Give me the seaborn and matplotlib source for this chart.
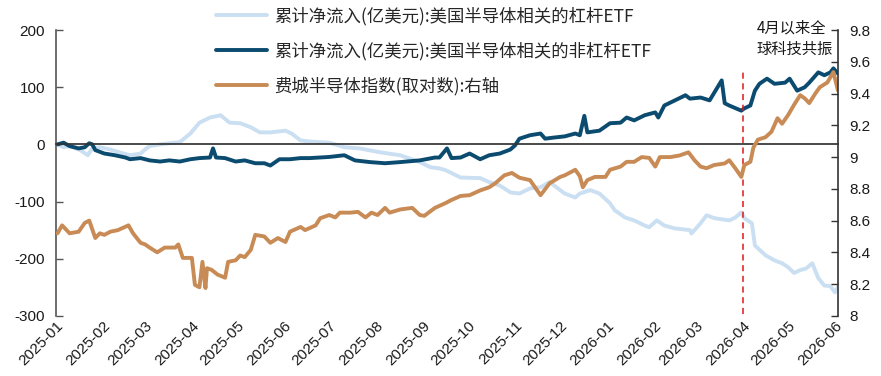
import matplotlib
matplotlib.use("Agg")
import matplotlib.pyplot as plt
import matplotlib.dates as mdates
from matplotlib.ticker import FuncFormatter, MultipleLocator
import pandas as pd
import seaborn as sns

# Cumulative net inflows into leveraged US semiconductor ETFs (100m USD)
lev_dates = [
    "2025-01-02", "2025-01-06", "2025-01-10", "2025-01-17", "2025-01-22", "2025-01-25",
    "2025-01-30", "2025-02-06", "2025-02-12", "2025-02-19", "2025-02-26", "2025-03-01",
    "2025-03-04", "2025-03-11", "2025-03-17", "2025-03-24", "2025-03-31", "2025-04-06",
    "2025-04-13", "2025-04-20", "2025-04-26", "2025-05-03", "2025-05-10", "2025-05-16",
    "2025-05-23", "2025-06-02", "2025-06-06", "2025-06-12", "2025-06-18", "2025-07-01",
    "2025-07-11", "2025-07-21", "2025-08-04", "2025-08-17", "2025-08-30", "2025-09-06",
    "2025-09-12", "2025-09-16", "2025-09-26", "2025-10-09", "2025-10-15", "2025-10-22",
    "2025-10-29", "2025-11-04", "2025-11-11", "2025-11-18", "2025-11-24", "2025-11-27",
    "2025-12-04", "2025-12-11", "2025-12-14", "2025-12-21", "2025-12-27", "2026-01-03",
    "2026-01-06", "2026-01-13", "2026-01-19", "2026-01-26", "2026-01-29", "2026-02-03",
    "2026-02-08", "2026-02-15", "2026-02-25", "2026-02-26", "2026-03-04", "2026-03-08",
    "2026-03-13", "2026-03-23", "2026-03-27", "2026-03-31", "2026-04-02", "2026-04-07",
    "2026-04-09", "2026-04-16", "2026-04-22", "2026-04-27", "2026-05-01", "2026-05-05",
    "2026-05-09", "2026-05-13", "2026-05-17", "2026-05-21", "2026-05-25", "2026-05-29",
    "2026-06-01", "2026-06-03",
]
lev_flow = [
    0, -5, -3, -10, -19, -7,
    -5, -9, -14, -19, -16, -9,
    -3, 0, 2, 4, 19, 38,
    47, 51, 38, 37, 30, 21,
    21, 24, 19, 7, 5, 3,
    -5, -7, -14, -19, -31, -40,
    -42, -45, -58, -59, -66, -72,
    -84, -86, -77, -75, -66, -72,
    -86, -93, -86, -80, -86, -103,
    -115, -128, -133, -142, -145, -133,
    -142, -147, -150, -156, -138, -124,
    -129, -133, -128, -119, -129, -138,
    -177, -194, -203, -208, -215, -225,
    -220, -217, -208, -234, -247, -248,
    -259, -250,
]

# Cumulative net inflows into non-leveraged US semiconductor ETFs (100m USD)
nonlev_dates = [
    "2025-01-02", "2025-01-06", "2025-01-10", "2025-01-16", "2025-01-20", "2025-01-23",
    "2025-01-25", "2025-01-27", "2025-02-02", "2025-02-09", "2025-02-16", "2025-02-19",
    "2025-02-26", "2025-03-04", "2025-03-11", "2025-03-17", "2025-03-24", "2025-03-31",
    "2025-04-06", "2025-04-13", "2025-04-15", "2025-04-17", "2025-04-23", "2025-04-30",
    "2025-05-06", "2025-05-13", "2025-05-19", "2025-05-23", "2025-05-29", "2025-06-05",
    "2025-06-12", "2025-06-18", "2025-07-01", "2025-07-11", "2025-07-18", "2025-07-28",
    "2025-08-07", "2025-08-17", "2025-08-30", "2025-09-09", "2025-09-12", "2025-09-17",
    "2025-09-20", "2025-09-26", "2025-10-02", "2025-10-09", "2025-10-15", "2025-10-22",
    "2025-10-29", "2025-11-01", "2025-11-04", "2025-11-11", "2025-11-18", "2025-11-21",
    "2025-11-27", "2025-12-04", "2025-12-11", "2025-12-14", "2025-12-17", "2025-12-19",
    "2025-12-27", "2026-01-03", "2026-01-10", "2026-01-14", "2026-01-19", "2026-01-26",
    "2026-02-02", "2026-02-04", "2026-02-08", "2026-02-15", "2026-02-22", "2026-02-25",
    "2026-03-04", "2026-03-10", "2026-03-18", "2026-03-20", "2026-03-23", "2026-03-31",
    "2026-04-02", "2026-04-06", "2026-04-09", "2026-04-12", "2026-04-17", "2026-04-22",
    "2026-04-29", "2026-05-02", "2026-05-07", "2026-05-12", "2026-05-15", "2026-05-21",
    "2026-05-25", "2026-05-29", "2026-05-31", "2026-06-03",
]
nonlev_flow = [
    0, 3, -3, -7, -5, 2,
    0, -10, -16, -19, -23, -26,
    -24, -28, -30, -28, -30, -26,
    -24, -23, -7, -23, -24, -30,
    -28, -33, -33, -37, -26, -26,
    -24, -24, -22, -19, -28, -31,
    -33, -31, -28, -23, -23, -7,
    -24, -23, -16, -26, -19, -16,
    -9, -2, 10, 16, 19, 10,
    12, 14, 19, 16, 50, 21,
    24, 37, 38, 47, 42, 51,
    56, 47, 68, 77, 86, 80,
    82, 77, 112, 72, 68, 59,
    63, 68, 94, 106, 115, 106,
    108, 115, 94, 100, 108, 126,
    121, 126, 133, 124,
]

# Philadelphia Semiconductor Index, natural log (right axis)
sox_dates = [
    "2025-01-02", "2025-01-05", "2025-01-10", "2025-01-16", "2025-01-20", "2025-01-23",
    "2025-01-27", "2025-01-30", "2025-02-02", "2025-02-06", "2025-02-11", "2025-02-18",
    "2025-02-21", "2025-02-26", "2025-03-01", "2025-03-04", "2025-03-09", "2025-03-14",
    "2025-03-21", "2025-03-23", "2025-03-26", "2025-04-01", "2025-04-03", "2025-04-06",
    "2025-04-08", "2025-04-10", "2025-04-11", "2025-04-14", "2025-04-18", "2025-04-23",
    "2025-04-25", "2025-04-30", "2025-05-03", "2025-05-06", "2025-05-10", "2025-05-13",
    "2025-05-19", "2025-05-23", "2025-05-28", "2025-06-02", "2025-06-05", "2025-06-12",
    "2025-06-15", "2025-06-22", "2025-06-25", "2025-07-01", "2025-07-05", "2025-07-08",
    "2025-07-15", "2025-07-20", "2025-07-25", "2025-07-29", "2025-08-02", "2025-08-07",
    "2025-08-10", "2025-08-17", "2025-08-25", "2025-08-30", "2025-09-02", "2025-09-09",
    "2025-09-16", "2025-09-20", "2025-09-26", "2025-10-02", "2025-10-09", "2025-10-15",
    "2025-10-19", "2025-10-25", "2025-10-30", "2025-11-04", "2025-11-11", "2025-11-18",
    "2025-11-24", "2025-12-01", "2025-12-04", "2025-12-11", "2025-12-14", "2025-12-16",
    "2025-12-19", "2025-12-24", "2025-12-31", "2026-01-03", "2026-01-10", "2026-01-14",
    "2026-01-19", "2026-01-24", "2026-01-29", "2026-02-02", "2026-02-05", "2026-02-12",
    "2026-02-18", "2026-02-24", "2026-02-28", "2026-03-04", "2026-03-08", "2026-03-13",
    "2026-03-20", "2026-03-23", "2026-03-27", "2026-03-31", "2026-04-02", "2026-04-06",
    "2026-04-08", "2026-04-11", "2026-04-16", "2026-04-20", "2026-04-24", "2026-04-27",
    "2026-05-01", "2026-05-05", "2026-05-09", "2026-05-12", "2026-05-15", "2026-05-19",
    "2026-05-22", "2026-05-27", "2026-05-31", "2026-06-03",
]
sox_log = [
    8.52, 8.57, 8.52, 8.53, 8.585, 8.60,
    8.49, 8.52, 8.51, 8.53, 8.54, 8.57,
    8.52, 8.46, 8.45, 8.43, 8.40, 8.43,
    8.43, 8.45, 8.365, 8.365, 8.195, 8.18,
    8.34, 8.175, 8.30, 8.29, 8.26, 8.24,
    8.34, 8.35, 8.38, 8.37, 8.415, 8.51,
    8.50, 8.46, 8.49, 8.465, 8.53, 8.56,
    8.54, 8.57, 8.615, 8.635, 8.62, 8.65,
    8.65, 8.655, 8.62, 8.65, 8.635, 8.68,
    8.65, 8.67, 8.68, 8.635, 8.63, 8.68,
    8.71, 8.73, 8.755, 8.76, 8.79, 8.81,
    8.835, 8.885, 8.90, 8.87, 8.855, 8.76,
    8.835, 8.875, 8.885, 8.92, 8.88, 8.81,
    8.855, 8.875, 8.875, 8.92, 8.94, 8.97,
    8.97, 9.00, 8.995, 8.94, 9.00, 9.00,
    9.01, 9.03, 8.98, 8.94, 8.93, 8.95,
    8.96, 8.98, 8.93, 8.875, 8.95, 8.97,
    9.06, 9.11, 9.125, 9.16, 9.245, 9.21,
    9.265, 9.33, 9.39, 9.37, 9.34, 9.40,
    9.44, 9.47, 9.535, 9.42,
]

labels = [
    "累计净流入(亿美元):美国半导体相关的杠杆ETF",
    "累计净流入(亿美元):美国半导体相关的非杠杆ETF",
    "费城半导体指数(取对数):右轴",
]
note_text = "4月以来全\n球科技共振"
event_date = "2026-04-01"

c_lev = "#CADFF1"
c_nonlev = "#0B4B6F"
c_sox = "#C98B55"
c_axis = "#555555"
cjk = ["Noto Sans CJK SC", "DejaVu Sans"]

sns.set_theme(style="white")
plt.rcParams["font.family"] = ["Liberation Sans", "Noto Sans CJK SC", "DejaVu Sans"]
plt.rcParams["axes.unicode_minus"] = False

lev = pd.DataFrame({"date": pd.to_datetime(lev_dates), "value": lev_flow})
nonlev = pd.DataFrame({"date": pd.to_datetime(nonlev_dates), "value": nonlev_flow})
sox = pd.DataFrame({"date": pd.to_datetime(sox_dates), "value": sox_log})

fig = plt.figure(figsize=(8.81, 3.76), dpi=100)
ax = fig.add_axes([0.0636, 0.160, 0.8875, 0.760])
ax2 = ax.twinx()

sns.lineplot(data=lev, x="date", y="value", ax=ax, color=c_lev, lw=2.8,
             label=labels[0], legend=False)
sns.lineplot(data=nonlev, x="date", y="value", ax=ax, color=c_nonlev, lw=2.8,
             label=labels[1], legend=False)
sns.lineplot(data=sox, x="date", y="value", ax=ax2, color=c_sox, lw=2.8,
             label=labels[2], legend=False)

ax.set_ylim(-300, 200)
ax2.set_ylim(8.0, 9.8)
ax.set_xlim(pd.Timestamp("2025-01-01"), pd.Timestamp("2026-06-03"))
ax.yaxis.set_major_locator(MultipleLocator(100))
ax2.yaxis.set_major_locator(MultipleLocator(0.2))
ax2.yaxis.set_major_formatter(FuncFormatter(lambda v, p: f"{v:g}"))
for a in (ax, ax2):
    a.set_xlabel("")
    a.set_ylabel("")

# vertical marker for the April turning point
ax.axvline(pd.Timestamp(event_date), ymin=0.005, ymax=0.86, color="#E01818",
           lw=1.1, ls=(0, (4, 3)))

# x axis line sits at zero, tick labels stay at the bottom
ax.xaxis.set_major_locator(mdates.MonthLocator())
ax.xaxis.set_major_formatter(mdates.DateFormatter("%Y-%m"))
ax.spines["bottom"].set_position(("data", 0))
ax.tick_params(axis="x", direction="in", length=5, width=1, color="#333333",
               labelbottom=False)
ax2.xaxis.set_visible(True)
ax2.tick_params(axis="x", length=0, labelbottom=True, labelsize=11,
                labelcolor="#1a1a1a", pad=2)
for lab in ax2.get_xticklabels():
    lab.set_rotation(45)
    lab.set_ha("right")
    lab.set_rotation_mode("anchor")

for a in (ax, ax2):
    a.spines["top"].set_visible(False)
    a.grid(False)
ax.spines["right"].set_visible(False)
ax.spines["bottom"].set_color("#333333")
ax.spines["left"].set_color(c_axis)
ax.spines["left"].set_linewidth(1.2)
ax2.spines["left"].set_visible(False)
ax2.spines["bottom"].set_visible(False)
ax2.spines["right"].set_color("#333333")
ax2.spines["right"].set_linewidth(1.2)
ax.tick_params(axis="y", direction="in", length=5, width=1, color=c_axis,
               labelsize=11, labelcolor="#1a1a1a", pad=8)
ax2.tick_params(axis="y", direction="in", length=5, width=1, color="#333333",
                labelsize=11, labelcolor="#1a1a1a", pad=8)

handles = ax.get_lines()[:2] + ax2.get_lines()[:1]
fig.legend(handles, labels, loc="upper left", bbox_to_anchor=(0.228, 1.024),
           frameon=False, handlelength=2.9, handletextpad=0.45,
           labelspacing=0.95, prop={"family": cjk, "size": 12.5})

fig.text(0.859, 0.948, note_text, ha="left", va="top", fontsize=11,
         family=cjk, color="#1a1a1a", linespacing=1.3)

fig.savefig("out.png", dpi=100)
